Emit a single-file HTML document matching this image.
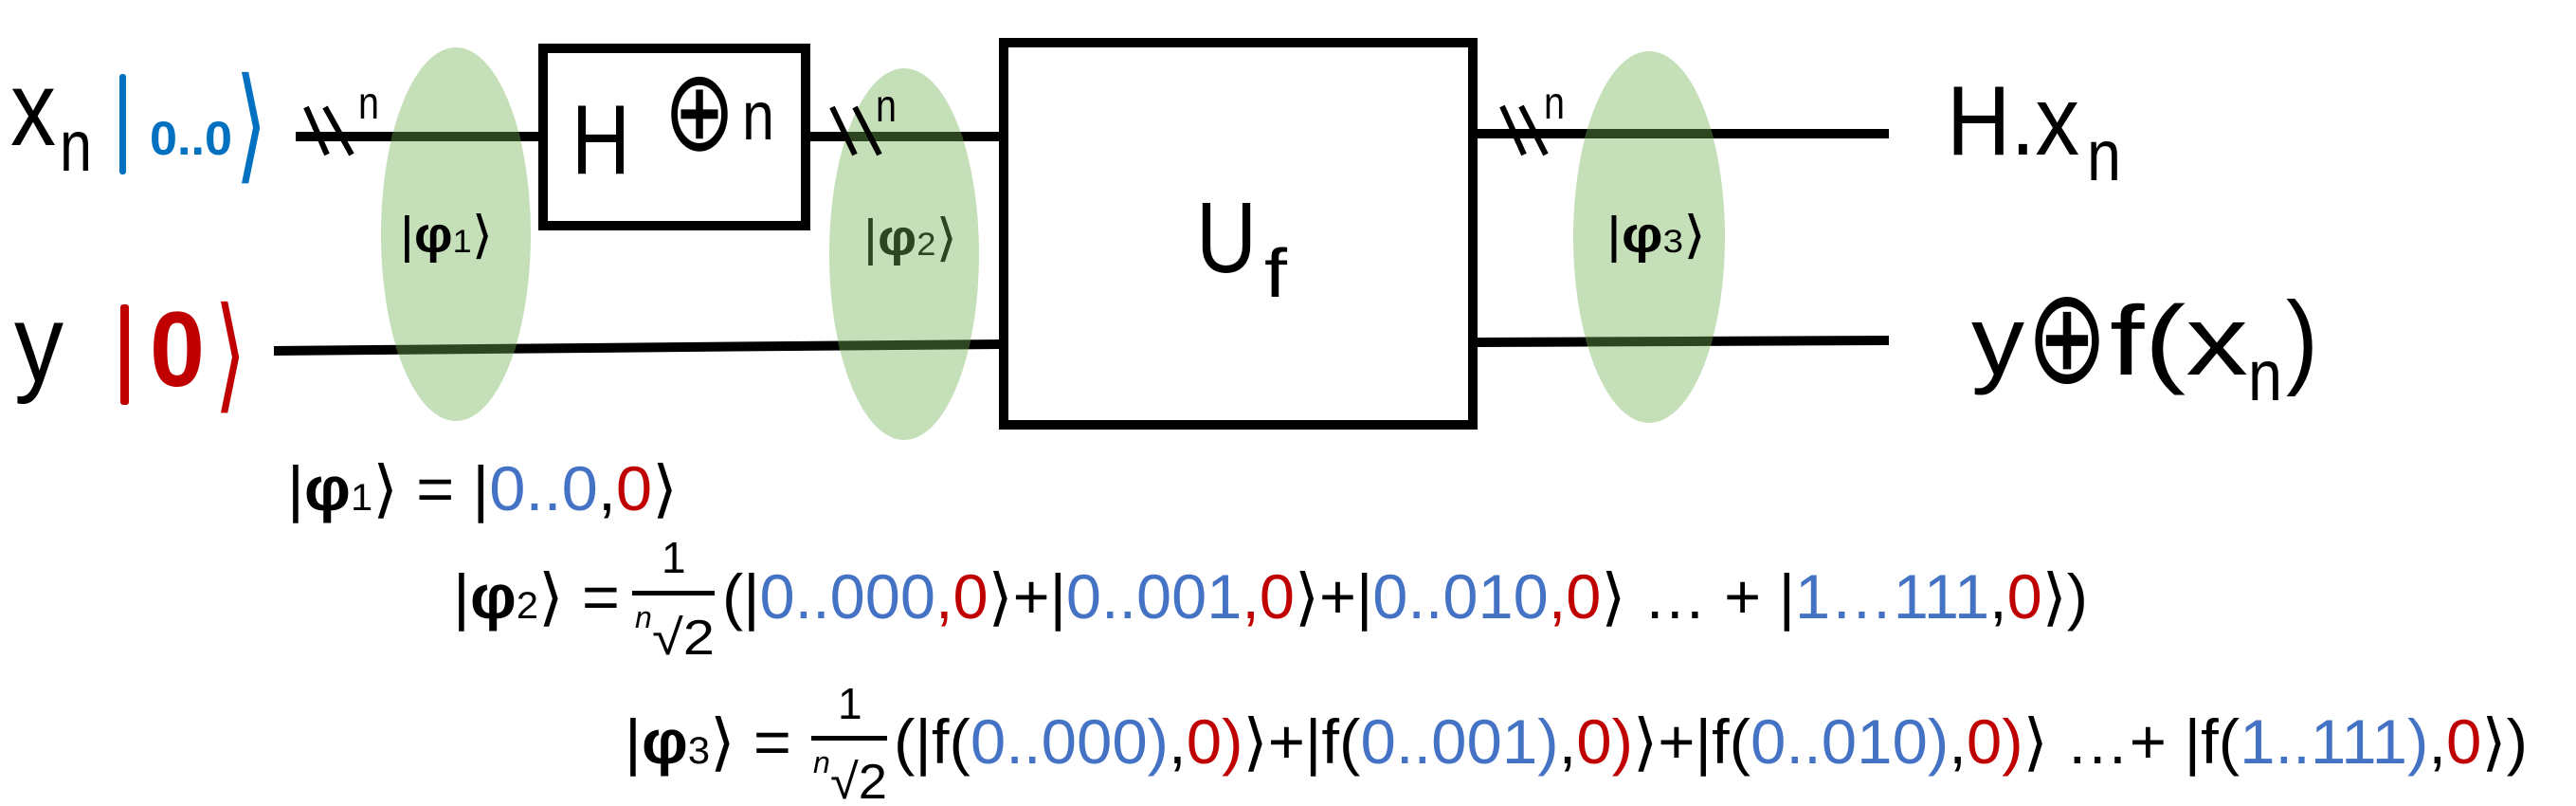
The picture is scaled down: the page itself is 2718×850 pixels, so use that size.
<!DOCTYPE html>
<html><head><meta charset="utf-8"><style>
html,body{margin:0;padding:0;background:#fff;}
svg{display:block;}
text{font-family:"Liberation Sans","DejaVu Sans",sans-serif;}
</style></head><body>
<svg width="2718" height="850" viewBox="0 0 2718 850">
<defs>
<clipPath id="ell"><ellipse cx="481" cy="247" rx="79" ry="197"/><ellipse cx="954" cy="268" rx="79" ry="196"/><ellipse cx="1740" cy="250" rx="80" ry="196"/></clipPath>
</defs>
<g stroke="#000" stroke-width="10">
<line x1="312" y1="144" x2="570" y2="144"/>
<line x1="852" y1="144" x2="1056" y2="144"/>
<line x1="289" y1="370" x2="1056" y2="363"/>
<line x1="1557" y1="141" x2="1993" y2="141"/>
<line x1="1557" y1="361" x2="1993" y2="359"/>
</g>
<g fill="#c5dfb9">
<ellipse cx="481" cy="247" rx="79" ry="197"/>
<ellipse cx="954" cy="268" rx="79" ry="196"/>
<ellipse cx="1740" cy="250" rx="80" ry="196"/>
</g>
<g clip-path="url(#ell)" stroke="#2d4520" stroke-width="10">
<line x1="312" y1="144" x2="570" y2="144"/>
<line x1="852" y1="144" x2="1056" y2="144"/>
<line x1="289" y1="370" x2="1056" y2="363"/>
<line x1="1557" y1="141" x2="1993" y2="141"/>
<line x1="1557" y1="361" x2="1993" y2="359"/>
</g>
<rect x="573" y="51" width="277" height="187" fill="#fff" stroke="#000" stroke-width="10"/>
<rect x="1059" y="45" width="495" height="403" fill="#fff" stroke="#000" stroke-width="10"/>
<g stroke="#000" stroke-width="6">
<line x1="323" y1="113" x2="345" y2="163"/><line x1="343" y1="113" x2="371" y2="163"/>
<line x1="878" y1="113" x2="902" y2="163"/><line x1="902" y1="113" x2="928" y2="163"/>
<line x1="1585" y1="112" x2="1608" y2="163"/><line x1="1605" y1="112" x2="1631" y2="163"/>
</g>
<text x="378" y="125" font-size="48" textLength="22" lengthAdjust="spacingAndGlyphs">n</text>
<text x="924" y="128" font-size="48" textLength="22" lengthAdjust="spacingAndGlyphs">n</text>
<text x="1629" y="125" font-size="48" textLength="22" lengthAdjust="spacingAndGlyphs">n</text>

<text x="11" y="153" font-size="112" textLength="48" lengthAdjust="spacingAndGlyphs">x</text>
<text x="63" y="180" font-size="76" textLength="34" lengthAdjust="spacingAndGlyphs">n</text>
<rect x="126" y="78" width="7" height="106" rx="3" fill="#0070c0"/>
<text x="158" y="163" font-size="50" fill="#0070c0" font-weight="bold" textLength="87" lengthAdjust="spacingAndGlyphs">0..0</text>
<text x="248" y="176" font-size="132" fill="#0070c0" textLength="34" lengthAdjust="spacingAndGlyphs">⟩</text>

<text x="15" y="402" font-size="116" textLength="52" lengthAdjust="spacingAndGlyphs">y</text>
<rect x="127" y="321" width="9" height="106" rx="3" fill="#c00000"/>
<text x="158" y="407" font-size="112" fill="#c00000" font-weight="bold" textLength="58" lengthAdjust="spacingAndGlyphs">0</text>
<text x="226" y="418" font-size="132" fill="#c00000" textLength="34" lengthAdjust="spacingAndGlyphs">⟩</text>

<text x="603" y="183" font-size="104" textLength="62" lengthAdjust="spacingAndGlyphs">H</text>
<text x="700" y="158" font-size="120" textLength="76" lengthAdjust="spacingAndGlyphs">⊕</text>
<text x="783" y="147" font-size="72" textLength="34" lengthAdjust="spacingAndGlyphs">n</text>

<text x="1262" y="287" font-size="106" textLength="64" lengthAdjust="spacingAndGlyphs">U</text>
<text x="1334" y="313" font-size="72" textLength="24" lengthAdjust="spacingAndGlyphs">f</text>

<text x="2054" y="163" font-size="104" textLength="140" lengthAdjust="spacingAndGlyphs">H.x</text>
<text x="2202" y="190" font-size="76" textLength="36" lengthAdjust="spacingAndGlyphs">n</text>
<text x="2080" y="395" font-size="104" textLength="56" lengthAdjust="spacingAndGlyphs">y</text>
<text x="2138" y="403" font-size="140" textLength="86" lengthAdjust="spacingAndGlyphs">⊕</text>
<text x="2226" y="395" font-size="104" textLength="146" lengthAdjust="spacingAndGlyphs">f(x</text>
<text x="2372" y="422" font-size="76" textLength="36" lengthAdjust="spacingAndGlyphs">n</text>
<text x="2412" y="395" font-size="110" textLength="34" lengthAdjust="spacingAndGlyphs">)</text>

<text x="422" y="266" font-size="54" textLength="98" lengthAdjust="spacingAndGlyphs">|<tspan font-weight="bold">φ</tspan><tspan font-size="34">1</tspan>⟩</text>
<text x="911" y="269" font-size="54" fill="#2d4520" textLength="99" lengthAdjust="spacingAndGlyphs">|<tspan font-weight="bold">φ</tspan><tspan font-size="34">2</tspan>⟩</text>
<text x="1695" y="266" font-size="54" textLength="105" lengthAdjust="spacingAndGlyphs">|<tspan font-weight="bold">φ</tspan><tspan font-size="34">3</tspan>⟩</text>

<text x="303" y="538" font-size="66" textLength="412" lengthAdjust="spacingAndGlyphs">|<tspan font-weight="bold">φ</tspan><tspan font-size="40">1</tspan>⟩ = |<tspan fill="#4472c4">0..0</tspan>,<tspan fill="#c00000">0</tspan>⟩</text>

<text x="478" y="652" font-size="66" textLength="176" lengthAdjust="spacingAndGlyphs">|<tspan font-weight="bold">φ</tspan><tspan font-size="40">2</tspan>⟩ =</text>
<text x="698" y="604" font-size="46">1</text>
<rect x="667" y="623" width="87" height="5" fill="#000"/>
<text x="670" y="662" font-size="32" font-style="italic">n</text>
<text x="688" y="690" font-size="52" textLength="66" lengthAdjust="spacingAndGlyphs">√2</text>
<text x="762" y="652" font-size="66" textLength="1441" lengthAdjust="spacingAndGlyphs">(|<tspan fill="#4472c4">0..000</tspan><tspan fill="#c00000">,0</tspan>⟩+|<tspan fill="#4472c4">0..001</tspan><tspan fill="#c00000">,0</tspan>⟩+|<tspan fill="#4472c4">0..010</tspan><tspan fill="#c00000">,0</tspan>⟩ … +  |<tspan fill="#4472c4">1…111</tspan>,<tspan fill="#c00000">0</tspan>⟩)</text>

<text x="659" y="805" font-size="66" textLength="176" lengthAdjust="spacingAndGlyphs">|<tspan font-weight="bold">φ</tspan><tspan font-size="40">3</tspan>⟩ =</text>
<text x="884" y="758" font-size="46">1</text>
<rect x="856" y="776" width="80" height="5" fill="#000"/>
<text x="858" y="815" font-size="32" font-style="italic">n</text>
<text x="876" y="842" font-size="52" textLength="60" lengthAdjust="spacingAndGlyphs">√2</text>
<text x="943" y="805" font-size="66" textLength="1724" lengthAdjust="spacingAndGlyphs">(|f(<tspan fill="#4472c4">0..000)</tspan>,<tspan fill="#c00000">0)</tspan>⟩+|f(<tspan fill="#4472c4">0..001)</tspan>,<tspan fill="#c00000">0)</tspan>⟩+|f(<tspan fill="#4472c4">0..010)</tspan>,<tspan fill="#c00000">0)</tspan>⟩ …+ |f(<tspan fill="#4472c4">1..111)</tspan>,<tspan fill="#c00000">0</tspan>⟩)</text>
</svg>
</body></html>
